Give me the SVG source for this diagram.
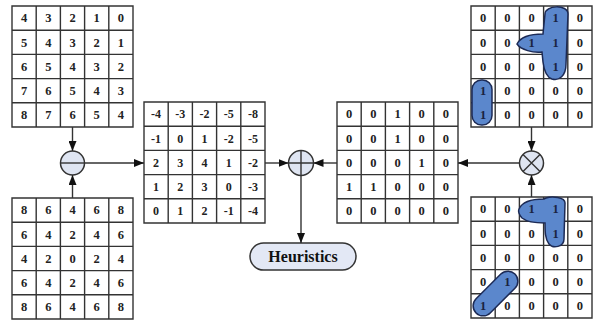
<svg xmlns="http://www.w3.org/2000/svg" width="595" height="322" viewBox="0 0 595 322">
<style>
.cell{fill:#fff}
.gl{fill:none;stroke:#333;stroke-width:1.4}
.t{font-family:"Liberation Serif","Times New Roman",serif;font-weight:bold;font-size:12.5px;fill:#222;text-anchor:middle}
.tm{font-size:12px}
.bt{fill:#1a2340}
.blob{fill:#5b87cc;stroke:#1c2a55;stroke-width:1.5}
.op{fill:#dfe5f2;stroke:#333;stroke-width:1.5}
.opl{stroke:#333;stroke-width:1.4;fill:none}
.con{stroke:#333;stroke-width:1.4;fill:none;marker-end:url(#ah)}
.lbl{font-family:"Liberation Serif","Times New Roman",serif;font-weight:bold;font-size:16px;fill:#111;text-anchor:middle}
</style>
<defs>
<marker id="ah" viewBox="0 0 10 8" refX="10" refY="4" markerWidth="10" markerHeight="8" markerUnits="userSpaceOnUse" orient="auto">
<path d="M0,0 L10,4 L0,8 Z" fill="#111"/>
</marker>
<path id="grid" class="gl" d="M0,0H121V121H0Z M24.2,0V121 M48.4,0V121 M72.6,0V121 M96.8,0V121 M0,24.2H121 M0,48.4H121 M0,72.6H121 M0,96.8H121"/>
</defs>

<g id="grid-top-left" transform="translate(12,6)">
<rect class="cell" width="121" height="121"/>
<use href="#grid"/>
<g class="t">
<text x="12.1" y="16.4">4</text><text x="36.3" y="16.4">3</text><text x="60.5" y="16.4">2</text><text x="84.7" y="16.4">1</text><text x="108.9" y="16.4">0</text>
<text x="12.1" y="40.6">5</text><text x="36.3" y="40.6">4</text><text x="60.5" y="40.6">3</text><text x="84.7" y="40.6">2</text><text x="108.9" y="40.6">1</text>
<text x="12.1" y="64.8">6</text><text x="36.3" y="64.8">5</text><text x="60.5" y="64.8">4</text><text x="84.7" y="64.8">3</text><text x="108.9" y="64.8">2</text>
<text x="12.1" y="89">7</text><text x="36.3" y="89">6</text><text x="60.5" y="89">5</text><text x="84.7" y="89">4</text><text x="108.9" y="89">3</text>
<text x="12.1" y="113.2">8</text><text x="36.3" y="113.2">7</text><text x="60.5" y="113.2">6</text><text x="84.7" y="113.2">5</text><text x="108.9" y="113.2">4</text>
</g>
</g>

<g id="grid-bottom-left" transform="translate(12,198)">
<rect class="cell" width="121" height="121"/>
<use href="#grid"/>
<g class="t">
<text x="12.1" y="16.4">8</text><text x="36.3" y="16.4">6</text><text x="60.5" y="16.4">4</text><text x="84.7" y="16.4">6</text><text x="108.9" y="16.4">8</text>
<text x="12.1" y="40.6">6</text><text x="36.3" y="40.6">4</text><text x="60.5" y="40.6">2</text><text x="84.7" y="40.6">4</text><text x="108.9" y="40.6">6</text>
<text x="12.1" y="64.8">4</text><text x="36.3" y="64.8">2</text><text x="60.5" y="64.8">0</text><text x="84.7" y="64.8">2</text><text x="108.9" y="64.8">4</text>
<text x="12.1" y="89">6</text><text x="36.3" y="89">4</text><text x="60.5" y="89">2</text><text x="84.7" y="89">4</text><text x="108.9" y="89">6</text>
<text x="12.1" y="113.2">8</text><text x="36.3" y="113.2">6</text><text x="60.5" y="113.2">4</text><text x="84.7" y="113.2">6</text><text x="108.9" y="113.2">8</text>
</g>
</g>

<g id="grid-difference" transform="translate(144,102)">
<rect class="cell" width="121" height="121"/>
<use href="#grid"/>
<g class="t tm">
<text x="12.1" y="16.4">-4</text><text x="36.3" y="16.4">-3</text><text x="60.5" y="16.4">-2</text><text x="84.7" y="16.4">-5</text><text x="108.9" y="16.4">-8</text>
<text x="12.1" y="40.6">-1</text><text x="36.3" y="40.6">0</text><text x="60.5" y="40.6">1</text><text x="84.7" y="40.6">-2</text><text x="108.9" y="40.6">-5</text>
<text x="12.1" y="64.8">2</text><text x="36.3" y="64.8">3</text><text x="60.5" y="64.8">4</text><text x="84.7" y="64.8">1</text><text x="108.9" y="64.8">-2</text>
<text x="12.1" y="89">1</text><text x="36.3" y="89">2</text><text x="60.5" y="89">3</text><text x="84.7" y="89">0</text><text x="108.9" y="89">-3</text>
<text x="12.1" y="113.2">0</text><text x="36.3" y="113.2">1</text><text x="60.5" y="113.2">2</text><text x="84.7" y="113.2">-1</text><text x="108.9" y="113.2">-4</text>
</g>
</g>

<g id="grid-product" transform="translate(337,102)">
<rect class="cell" width="121" height="121"/>
<use href="#grid"/>
<g class="t">
<text x="12.1" y="16.4">0</text><text x="36.3" y="16.4">0</text><text x="60.5" y="16.4">1</text><text x="84.7" y="16.4">0</text><text x="108.9" y="16.4">0</text>
<text x="12.1" y="40.6">0</text><text x="36.3" y="40.6">0</text><text x="60.5" y="40.6">1</text><text x="84.7" y="40.6">0</text><text x="108.9" y="40.6">0</text>
<text x="12.1" y="64.8">0</text><text x="36.3" y="64.8">0</text><text x="60.5" y="64.8">0</text><text x="84.7" y="64.8">1</text><text x="108.9" y="64.8">0</text>
<text x="12.1" y="89">1</text><text x="36.3" y="89">1</text><text x="60.5" y="89">0</text><text x="84.7" y="89">0</text><text x="108.9" y="89">0</text>
<text x="12.1" y="113.2">0</text><text x="36.3" y="113.2">0</text><text x="60.5" y="113.2">0</text><text x="84.7" y="113.2">0</text><text x="108.9" y="113.2">0</text>
</g>
</g>

<g id="grid-top-right" transform="translate(471,6)">
<rect class="cell" width="121" height="121"/>
<use href="#grid"/>
<path class="blob" d="M74,8 C74,-1 97,-2 97,8 L95,58 C95,70 88,75 81,73 C75,71 73,64 72,56 L71,46 C62,47 50,44 46,38 C50,30 61,28 72,28 Z"/>
<rect class="blob" x="1" y="74" width="20" height="45" rx="9.5"/>
<g class="t">
<text x="12.1" y="16.4">0</text><text x="36.3" y="16.4">0</text><text x="60.5" y="16.4">0</text><text class="bt" x="84.7" y="16.4">1</text><text x="108.9" y="16.4">0</text>
<text x="12.1" y="40.6">0</text><text x="36.3" y="40.6">0</text><text class="bt" x="60.5" y="40.6">1</text><text class="bt" x="84.7" y="40.6">1</text><text x="108.9" y="40.6">0</text>
<text x="12.1" y="64.8">0</text><text x="36.3" y="64.8">0</text><text x="60.5" y="64.8">0</text><text class="bt" x="84.7" y="64.8">1</text><text x="108.9" y="64.8">0</text>
<text class="bt" x="12.1" y="89">1</text><text x="36.3" y="89">0</text><text x="60.5" y="89">0</text><text x="84.7" y="89">0</text><text x="108.9" y="89">0</text>
<text class="bt" x="12.1" y="113.2">1</text><text x="36.3" y="113.2">0</text><text x="60.5" y="113.2">0</text><text x="84.7" y="113.2">0</text><text x="108.9" y="113.2">0</text>
</g>
</g>

<g id="grid-bottom-right" transform="translate(471,197)">
<rect class="cell" width="121" height="121"/>
<use href="#grid"/>
<path class="blob" d="M48,12 C52,3 65,2 73,2 L75,1 C81,-1 94,0 94,6 L93,42 C93,50 82,52 78,47 C74,42 74,34 74,26 C67,26 56,25 51,21 C48,18 47,14 48,12 Z"/>
<rect class="blob" x="-27.5" y="-10" width="55" height="20" rx="10" transform="translate(24.5,96.5) rotate(-45)"/>
<g class="t">
<text x="12.1" y="16.4">0</text><text x="36.3" y="16.4">0</text><text class="bt" x="60.5" y="16.4">1</text><text class="bt" x="84.7" y="16.4">1</text><text x="108.9" y="16.4">0</text>
<text x="12.1" y="40.6">0</text><text x="36.3" y="40.6">0</text><text x="60.5" y="40.6">0</text><text class="bt" x="84.7" y="40.6">1</text><text x="108.9" y="40.6">0</text>
<text x="12.1" y="64.8">0</text><text x="36.3" y="64.8">0</text><text x="60.5" y="64.8">0</text><text x="84.7" y="64.8">0</text><text x="108.9" y="64.8">0</text>
<text x="12.1" y="89">0</text><text class="bt" x="36.3" y="89">1</text><text x="60.5" y="89">0</text><text x="84.7" y="89">0</text><text x="108.9" y="89">0</text>
<text class="bt" x="12.1" y="113.2">1</text><text x="36.3" y="113.2">0</text><text x="60.5" y="113.2">0</text><text x="84.7" y="113.2">0</text><text x="108.9" y="113.2">0</text>
</g>
</g>

<g id="op-minus">
<circle class="op" cx="72.5" cy="163" r="12"/>
<path class="opl" d="M60.5,163H84.5"/>
</g>
<g id="op-plus">
<circle class="op" cx="301" cy="163" r="12.5"/>
<path class="opl" d="M288.5,163H313.5 M301,150.5V175.5"/>
</g>
<g id="op-times">
<circle class="op" cx="531.5" cy="163" r="12"/>
<path class="opl" d="M523,154.5L540,171.5 M540,154.5L523,171.5"/>
</g>

<g id="heuristics">
<rect x="250" y="243" width="106" height="27" rx="13.5" fill="#e3e8f5" stroke="#333" stroke-width="1.5"/>
<text class="lbl" x="303" y="261.5">Heuristics</text>
</g>

<g id="connectors">
<path class="con" d="M72.5,127V151"/>
<path class="con" d="M72.5,198V175"/>
<path class="con" d="M84.5,163H144"/>
<path class="con" d="M265,163H288.5"/>
<path class="con" d="M337,163H313.5"/>
<path class="con" d="M519.5,163H458"/>
<path class="con" d="M531.5,127V151"/>
<path class="con" d="M531.5,197V175"/>
<path class="con" d="M301,175.5V243"/>
</g>
</svg>
